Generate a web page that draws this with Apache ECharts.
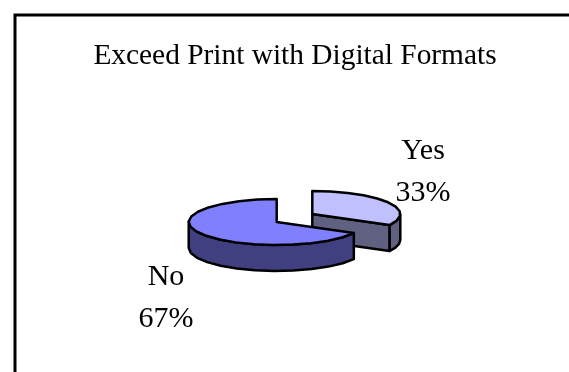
<!DOCTYPE html>
<html>
<head>
<meta charset="utf-8">
<style>html,body{margin:0;padding:0;background:#fff}#chart{width:569px;height:372px}</style>
<script src="https://cdn.jsdelivr.net/npm/echarts@6/dist/echarts.min.js"></script>
</head>
<body>
<div id="chart"></div>
<script>
const chartTitle = 'Exceed Print with Digital Formats';
const categories = ['Yes', 'No'];
const shares = [33, 67];

// Appearance of each slice of the tilted pie, in category order.
const topColors = ['#C0C0FF', '#8080FF'];
const rimColors = ['#606080', '#404080'];
const cutColors = ['#606080', '#404080'];
const sliceCenters = [[312.3, 214], [276.7, 222]];
const labelAnchors = [[423, 172], [166, 298]];
const radiusX = 88;
const radiusY = 23;
const depth = 26;
const font = '"Liberation Serif", "Times New Roman", serif';

const total = shares.reduce((a, b) => a + b, 0);

function startAngle(index) {
  let sum = 0;
  for (let i = 0; i < index; i++) sum += shares[i];
  return sum / total * Math.PI * 2;
}

// Clockwise angle from twelve o'clock onto the flattened ellipse.
function rimPoint(c, angle, drop) {
  return [c[0] + radiusX * Math.sin(angle), c[1] - radiusY * Math.cos(angle) + drop];
}

function arcPoints(c, from, to, drop) {
  const pts = [];
  const steps = Math.max(2, Math.ceil((to - from) / (Math.PI / 14)));
  for (let i = 0; i <= steps; i++) pts.push(rimPoint(c, from + (to - from) * i / steps, drop));
  return pts;
}

const lineStyle = { stroke: '#000', lineWidth: 2.5, lineJoin: 'round' };

function renderSlice(params, api) {
  const i = params.dataIndex;
  const c = sliceCenters[i];
  const a0 = startAngle(i);
  const a1 = a0 + api.value(0) / total * Math.PI * 2;
  const children = [];

  // Outer wall: only the part of the rim on the near half of the ellipse shows.
  const nearFrom = Math.max(a0, Math.PI / 2);
  const nearTo = Math.min(a1, Math.PI * 1.5);
  if (nearTo > nearFrom) {
    const upper = arcPoints(c, nearFrom, nearTo, 0);
    const lower = arcPoints(c, nearFrom, nearTo, depth).reverse();
    children.push({
      type: 'polygon',
      shape: { points: upper.concat(lower) },
      style: Object.assign({ fill: rimColors[i] }, lineStyle)
    });
  }

  // Cut face that turns toward the viewer when the slice is pulled out to the right.
  if (a1 < Math.PI) {
    const end = rimPoint(c, a1, 0);
    children.push({
      type: 'polygon',
      shape: { points: [c, end, [end[0], end[1] + depth], [c[0], c[1] + depth]] },
      style: Object.assign({ fill: cutColors[i] }, lineStyle)
    });
  }

  // Top face.
  children.push({
    type: 'polygon',
    shape: { points: [c].concat(arcPoints(c, a0, a1, 0)) },
    style: Object.assign({ fill: topColors[i] }, lineStyle)
  });

  // Category name above its percentage.
  const anchor = labelAnchors[i];
  children.push({
    type: 'text',
    z2: 10,
    style: {
      x: anchor[0], y: anchor[1],
      text: categories[i] + '\n' + Math.round(api.value(0) / total * 100) + '%',
      fill: '#000',
      font: '30px ' + font,
      lineHeight: 42,
      align: 'center',
      verticalAlign: 'middle'
    }
  });
  return { type: 'group', children };
}

const chart = echarts.init(document.getElementById('chart'), null, { renderer: 'canvas' });
chart.setOption({
  animation: false,
  backgroundColor: '#fff',
  title: {
    text: chartTitle,
    left: 290,
    top: 37,
    textAlign: 'center',
    textStyle: { fontFamily: font, fontSize: 29.4, fontWeight: 'normal', color: '#000' }
  },
  series: [{
    type: 'custom',
    coordinateSystem: 'none',
    renderItem: renderSlice,
    data: shares.map((v, i) => ({ name: categories[i], value: [v] }))
  }],
  graphic: [
    // Frame: runs off the right and bottom of the page.
    { type: 'polyline', silent: true, shape: { points: [[15, 372], [15, 15], [569, 15]] },
      style: { stroke: '#000', lineWidth: 3, fill: null } }
  ]
});
</script>
</body>
</html>
